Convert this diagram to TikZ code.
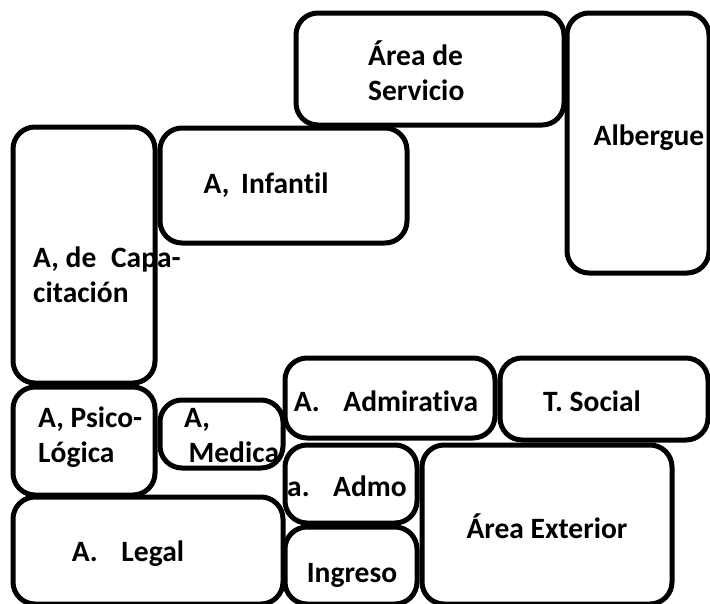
\documentclass[tikz,border=0pt]{standalone}
\usepackage{fontspec}
\setmainfont{Carlito}[Ligatures=NoCommon, BoldFont={Carlito Bold}]
\begin{document}
\begin{tikzpicture}[x=1pt,y=-1pt]
\tikzset{sala/.style={draw, line width=5pt, rounded corners=22pt, inner sep=0pt, minimum width=#1},
  sala/.default=100pt,
  rotulo/.style={font=\fontsize{29.5}{35}\selectfont\bfseries, inner sep=0pt, anchor=base}}
\useasboundingbox (0,0) rectangle (710,603);
\clip (0,0) rectangle (710,603);
% title letter cut by the page edge
\node[font=\fontsize{80}{80}\selectfont\bfseries, anchor=base, inner sep=0pt] (titulo) at (452,-16) {g};
% rooms
\node[sala=268pt, minimum height=112pt] (serv) at (430,69) {};
\node[sala=142pt, minimum height=260pt] (alb) at (638,143) {};
\node[sala=247pt, minimum height=115pt] (inf) at (283.5,185.5) {};
\node[sala=142pt, minimum height=256pt] (cap) at (84,255) {};
\node[sala=142pt, minimum height=108pt] (psi) at (84,441) {};
\node[sala=123pt, minimum height=68pt] (med) at (221.5,434) {};
\node[sala=270pt, minimum height=107pt] (leg) at (148,550.5) {};
\node[sala=210pt, minimum height=80pt] (adm) at (390,398) {};
\node[sala=208pt, minimum height=82pt] (soc) at (604,399) {};
\node[sala=132pt, minimum height=78pt] (admo) at (351,484) {};
\node[sala=132pt, minimum height=77pt] (ing) at (351,565.5) {};
\node[sala=250pt, minimum height=159pt] (ext) at (547,524.5) {};
% names (base = last line)
\node[rotulo, align=left, anchor=base west] (servT) at (368,100) {Área de\\Servicio};
\node[rotulo] (albT) at (649,145) {Albergue};
\node[rotulo] (infT) at (266,193) {A,\hspace{0.4em}Infantil};
\node[rotulo, align=left, anchor=base west] (capT) at (33,302) {A, de\hspace{0.5em}Capa-\\citación};
\node[rotulo, align=left, anchor=base west] (psiT) at (38,462) {A, Psico-\\Lógica};
\node[rotulo, align=left, anchor=base west] (medT) at (184,462) {A,\\\hspace{0.15em}Medica};
\node[rotulo] (admT) at (386,411) {A.\hspace{0.8em}Admirativa};
\node[rotulo] (socT) at (592,411) {T. Social};
\node[rotulo] (admoT) at (347,496) {a.\hspace{0.8em}Admo};
\node[rotulo] (extT) at (547,538) {Área Exterior};
\node[rotulo] (legT) at (128,561) {A.\hspace{0.8em}Legal};
\node[rotulo] (ingT) at (352,582) {Ingreso};
\end{tikzpicture}
\end{document}
